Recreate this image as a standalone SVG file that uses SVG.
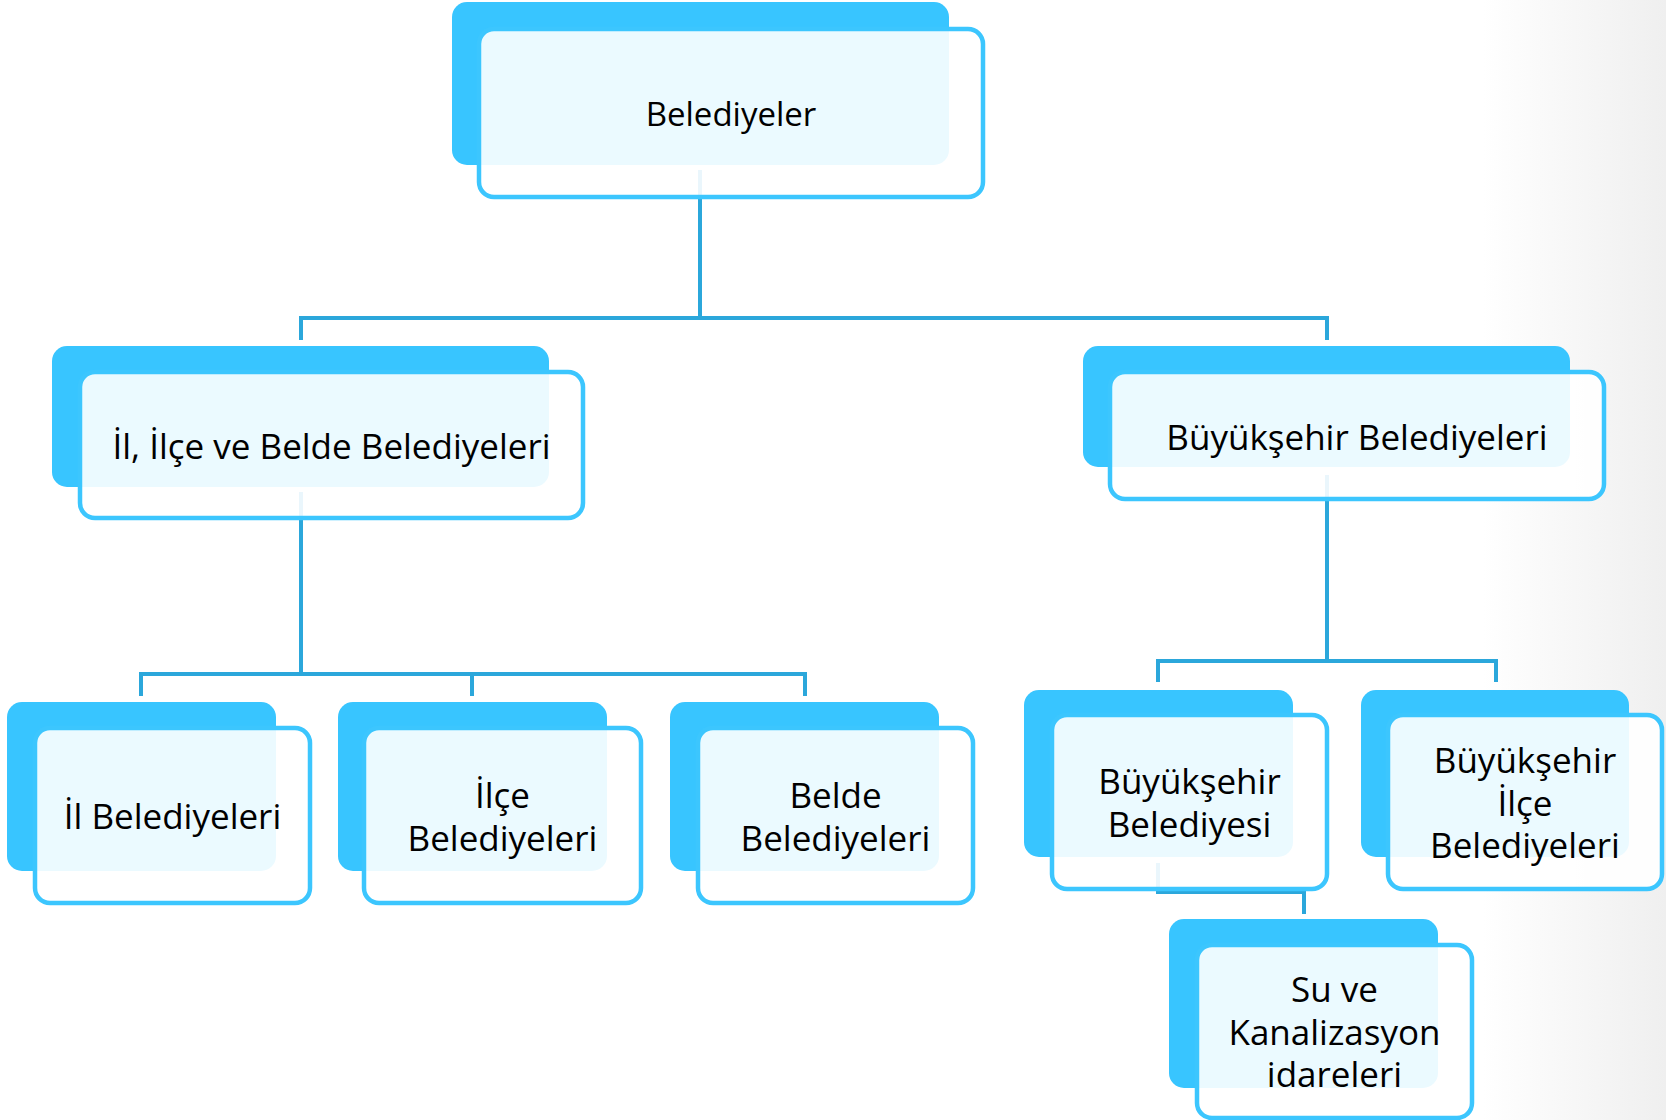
<svg xmlns="http://www.w3.org/2000/svg" width="1666" height="1120" viewBox="0 0 1666 1120">
<defs>
<linearGradient id="bg" x1="0" y1="0" x2="1" y2="0">
<stop offset="0" stop-color="#ffffff"/>
<stop offset="0.89" stop-color="#ffffff"/>
<stop offset="1" stop-color="#efefef"/>
</linearGradient>
<style>
.back{fill:#38c5ff;}
.front{fill:#ffffff;fill-opacity:0.9;stroke:#3cc6fe;stroke-width:4.5;}
.conn{fill:none;stroke:#2ba7db;stroke-width:4;}
.lbl{font-family:"Open Sans","Liberation Sans",sans-serif;font-size:35px;fill:#000;text-anchor:middle;}
.top{font-size:33px;}
</style>
</defs>
<rect x="0" y="0" width="1666" height="1120" fill="url(#bg)"/>
<g id="connectors">
<path class="conn" d="M700,170 V318 M301,318 H1327 M301,316 V340 M1327,316 V340"/>
<path class="conn" d="M301,492 V674 M141,674 H805 M141,672 V696 M472,672 V696 M805,672 V696"/>
<path class="conn" d="M1327,475 V661 M1158,661 H1496 M1158,659 V682 M1496,659 V682"/>
<path class="conn" d="M1158,863 V892 H1304 V914"/>
</g>
<g id="n-belediyeler">
<rect class="back" x="452" y="2" width="497" height="163" rx="15"/>
<rect class="front" x="479" y="29" width="504" height="168" rx="15"/>
<text class="lbl top" x="731" y="126">Belediyeler</text>
</g>
<g id="n-il-ilce-belde">
<rect class="back" x="52" y="346" width="497" height="141" rx="15"/>
<rect class="front" x="80" y="372" width="503" height="146" rx="15"/>
<text class="lbl" x="331.5" y="459">İl, İlçe ve Belde Belediyeleri</text>
</g>
<g id="n-buyuksehir">
<rect class="back" x="1083" y="346" width="487" height="121" rx="15"/>
<rect class="front" x="1110" y="372" width="494" height="127" rx="15"/>
<text class="lbl" x="1357" y="450">Büyükşehir Belediyeleri</text>
</g>
<g id="n-il">
<rect class="back" x="7" y="702" width="269" height="169" rx="15"/>
<rect class="front" x="35" y="728" width="275" height="175" rx="15"/>
<text class="lbl" x="172.5" y="829">İl Belediyeleri</text>
</g>
<g id="n-ilce">
<rect class="back" x="338" y="702" width="269" height="169" rx="15"/>
<rect class="front" x="364" y="728" width="277" height="175" rx="15"/>
<text class="lbl" x="502.5" y="808">İlçe<tspan x="502.5" dy="42.5">Belediyeleri</tspan></text>
</g>
<g id="n-belde">
<rect class="back" x="670" y="702" width="269" height="169" rx="15"/>
<rect class="front" x="698" y="728" width="275" height="175" rx="15"/>
<text class="lbl" x="835.5" y="808">Belde<tspan x="835.5" dy="42.5">Belediyeleri</tspan></text>
</g>
<g id="n-bb">
<rect class="back" x="1024" y="690" width="269" height="167" rx="15"/>
<rect class="front" x="1052" y="715" width="275" height="174" rx="15"/>
<text class="lbl" x="1189.5" y="794">Büyükşehir<tspan x="1189.5" dy="42.5">Belediyesi</tspan></text>
</g>
<g id="n-bib">
<rect class="back" x="1361" y="690" width="268" height="167" rx="15"/>
<rect class="front" x="1388" y="715" width="274" height="174" rx="15"/>
<text class="lbl" x="1525" y="773">Büyükşehir<tspan x="1525" dy="42.5">İlçe</tspan><tspan x="1525" dy="42.5">Belediyeleri</tspan></text>
</g>
<g id="n-su">
<rect class="back" x="1169" y="919" width="269" height="169" rx="15"/>
<rect class="front" x="1197" y="945" width="275" height="173" rx="15"/>
<text class="lbl" x="1334.5" y="1002">Su ve<tspan x="1334.5" dy="42.5">Kanalizasyon</tspan><tspan x="1334.5" dy="42.5">idareleri</tspan></text>
</g>
</svg>
